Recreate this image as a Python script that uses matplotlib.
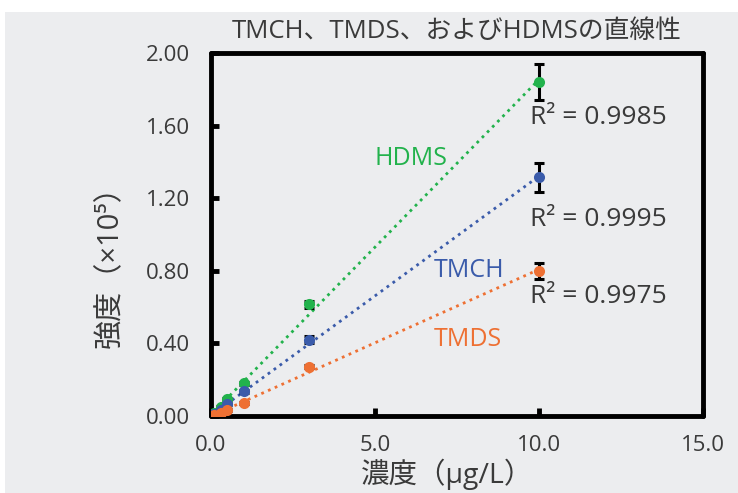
import numpy as np
import matplotlib
matplotlib.use("Agg")
import matplotlib.pyplot as plt
from matplotlib.patches import Rectangle

plt.rcParams['font.family'] = ['Open Sans', 'Noto Sans CJK JP', 'DejaVu Sans']

# data (intensity in units of 1e5)
conc = [0.1, 0.3, 0.5, 1.0, 3.0, 10.0]
hdms = [0.015, 0.051, 0.092, 0.18, 0.615, 1.84]
tmch = [0.010, 0.035, 0.065, 0.135, 0.42, 1.315]
tmds = [0.006, 0.018, 0.033, 0.07, 0.272, 0.80]
hdms_err = [0.003, 0.005, 0.006, 0.01, 0.02, 0.10]
tmch_err = [0.002, 0.004, 0.005, 0.008, 0.02, 0.08]
tmds_err = [0.001, 0.002, 0.003, 0.005, 0.01, 0.045]
r2 = {'HDMS': '0.9985', 'TMCH': '0.9995', 'TMDS': '0.9975'}

xticks = [0, 5, 10, 15]
yticks = [0, 0.4, 0.8, 1.2, 1.6, 2.0]

green = '#22B24C'
blue = '#3A5BAA'
orange = '#EE7033'
bg = '#ECEDEF'
txt = '#3A3A3A'

fig = plt.figure(figsize=(7.38, 4.93), dpi=100)
fig.patch.set_facecolor('white')
fig.patches.append(Rectangle((5/738, 0), 1, 481/493, transform=fig.transFigure,
                             facecolor=bg, edgecolor='none', zorder=-10))
ax = fig.add_axes([211/738, 77/493, 492/738, 363/493])
ax.set_facecolor(bg)

series = [(hdms, hdms_err, green), (tmch, tmch_err, blue), (tmds, tmds_err, orange)]
x = np.array(conc)
for y, err, c in series:
    k, b = np.polyfit(x, y, 1)
    xl = np.array([x.min(), x.max()])
    ax.plot(xl, k*xl + b, ':', color=c, lw=2, zorder=2)
for y, err, c in series:
    ax.errorbar(conc, y, yerr=err, fmt='none', ecolor='black', elinewidth=2.2,
                capsize=3.8, capthick=2.2, zorder=3)
    ax.plot(conc, y, 'o', color=c, ms=8, mec='none', zorder=4)

ax.text(6.1, 1.42, 'HDMS', color=green, fontsize=18, ha='center', va='center')
ax.text(7.87, 0.80, 'TMCH', color=blue, fontsize=18, ha='center', va='center')
ax.text(7.83, 0.42, 'TMDS', color=orange, fontsize=18, ha='center', va='center')
ax.text(9.73, 1.647, 'R² = ' + r2['HDMS'], color=txt, fontsize=19, va='center')
ax.text(9.73, 1.08, 'R² = ' + r2['TMCH'], color=txt, fontsize=19, va='center')
ax.text(9.73, 0.656, 'R² = ' + r2['TMDS'], color=txt, fontsize=19, va='center')

ax.set_xlim(0, 15)
ax.set_ylim(0, 2.0)
ax.set_xticks(xticks)
ax.set_xticklabels(['%.1f' % t for t in xticks])
ax.set_yticks(yticks)
ax.set_yticklabels(['%.2f' % t for t in yticks])
ax.tick_params(direction='in', length=6, width=3.5, labelsize=16, labelcolor=txt)
ax.tick_params(axis='x', pad=14)
ax.tick_params(axis='y', pad=15)
for s in ax.spines.values():
    s.set_linewidth(3.5)
    s.set_capstyle('round')

ax.set_title('TMCH、TMDS、およびHDMSの直線性', fontsize=18.5, color=txt, pad=11)
ax.set_xlabel('濃度（μg/L）', fontsize=20.5, color=txt, va='center')
ax.xaxis.set_label_coords(0.48, -0.16)
ax.set_ylabel('強度（×10⁵）', fontsize=21, color=txt, va='center')
ax.yaxis.set_label_coords(-0.205, 0.43)

fig.savefig('out.png', dpi=100, facecolor=fig.get_facecolor())
